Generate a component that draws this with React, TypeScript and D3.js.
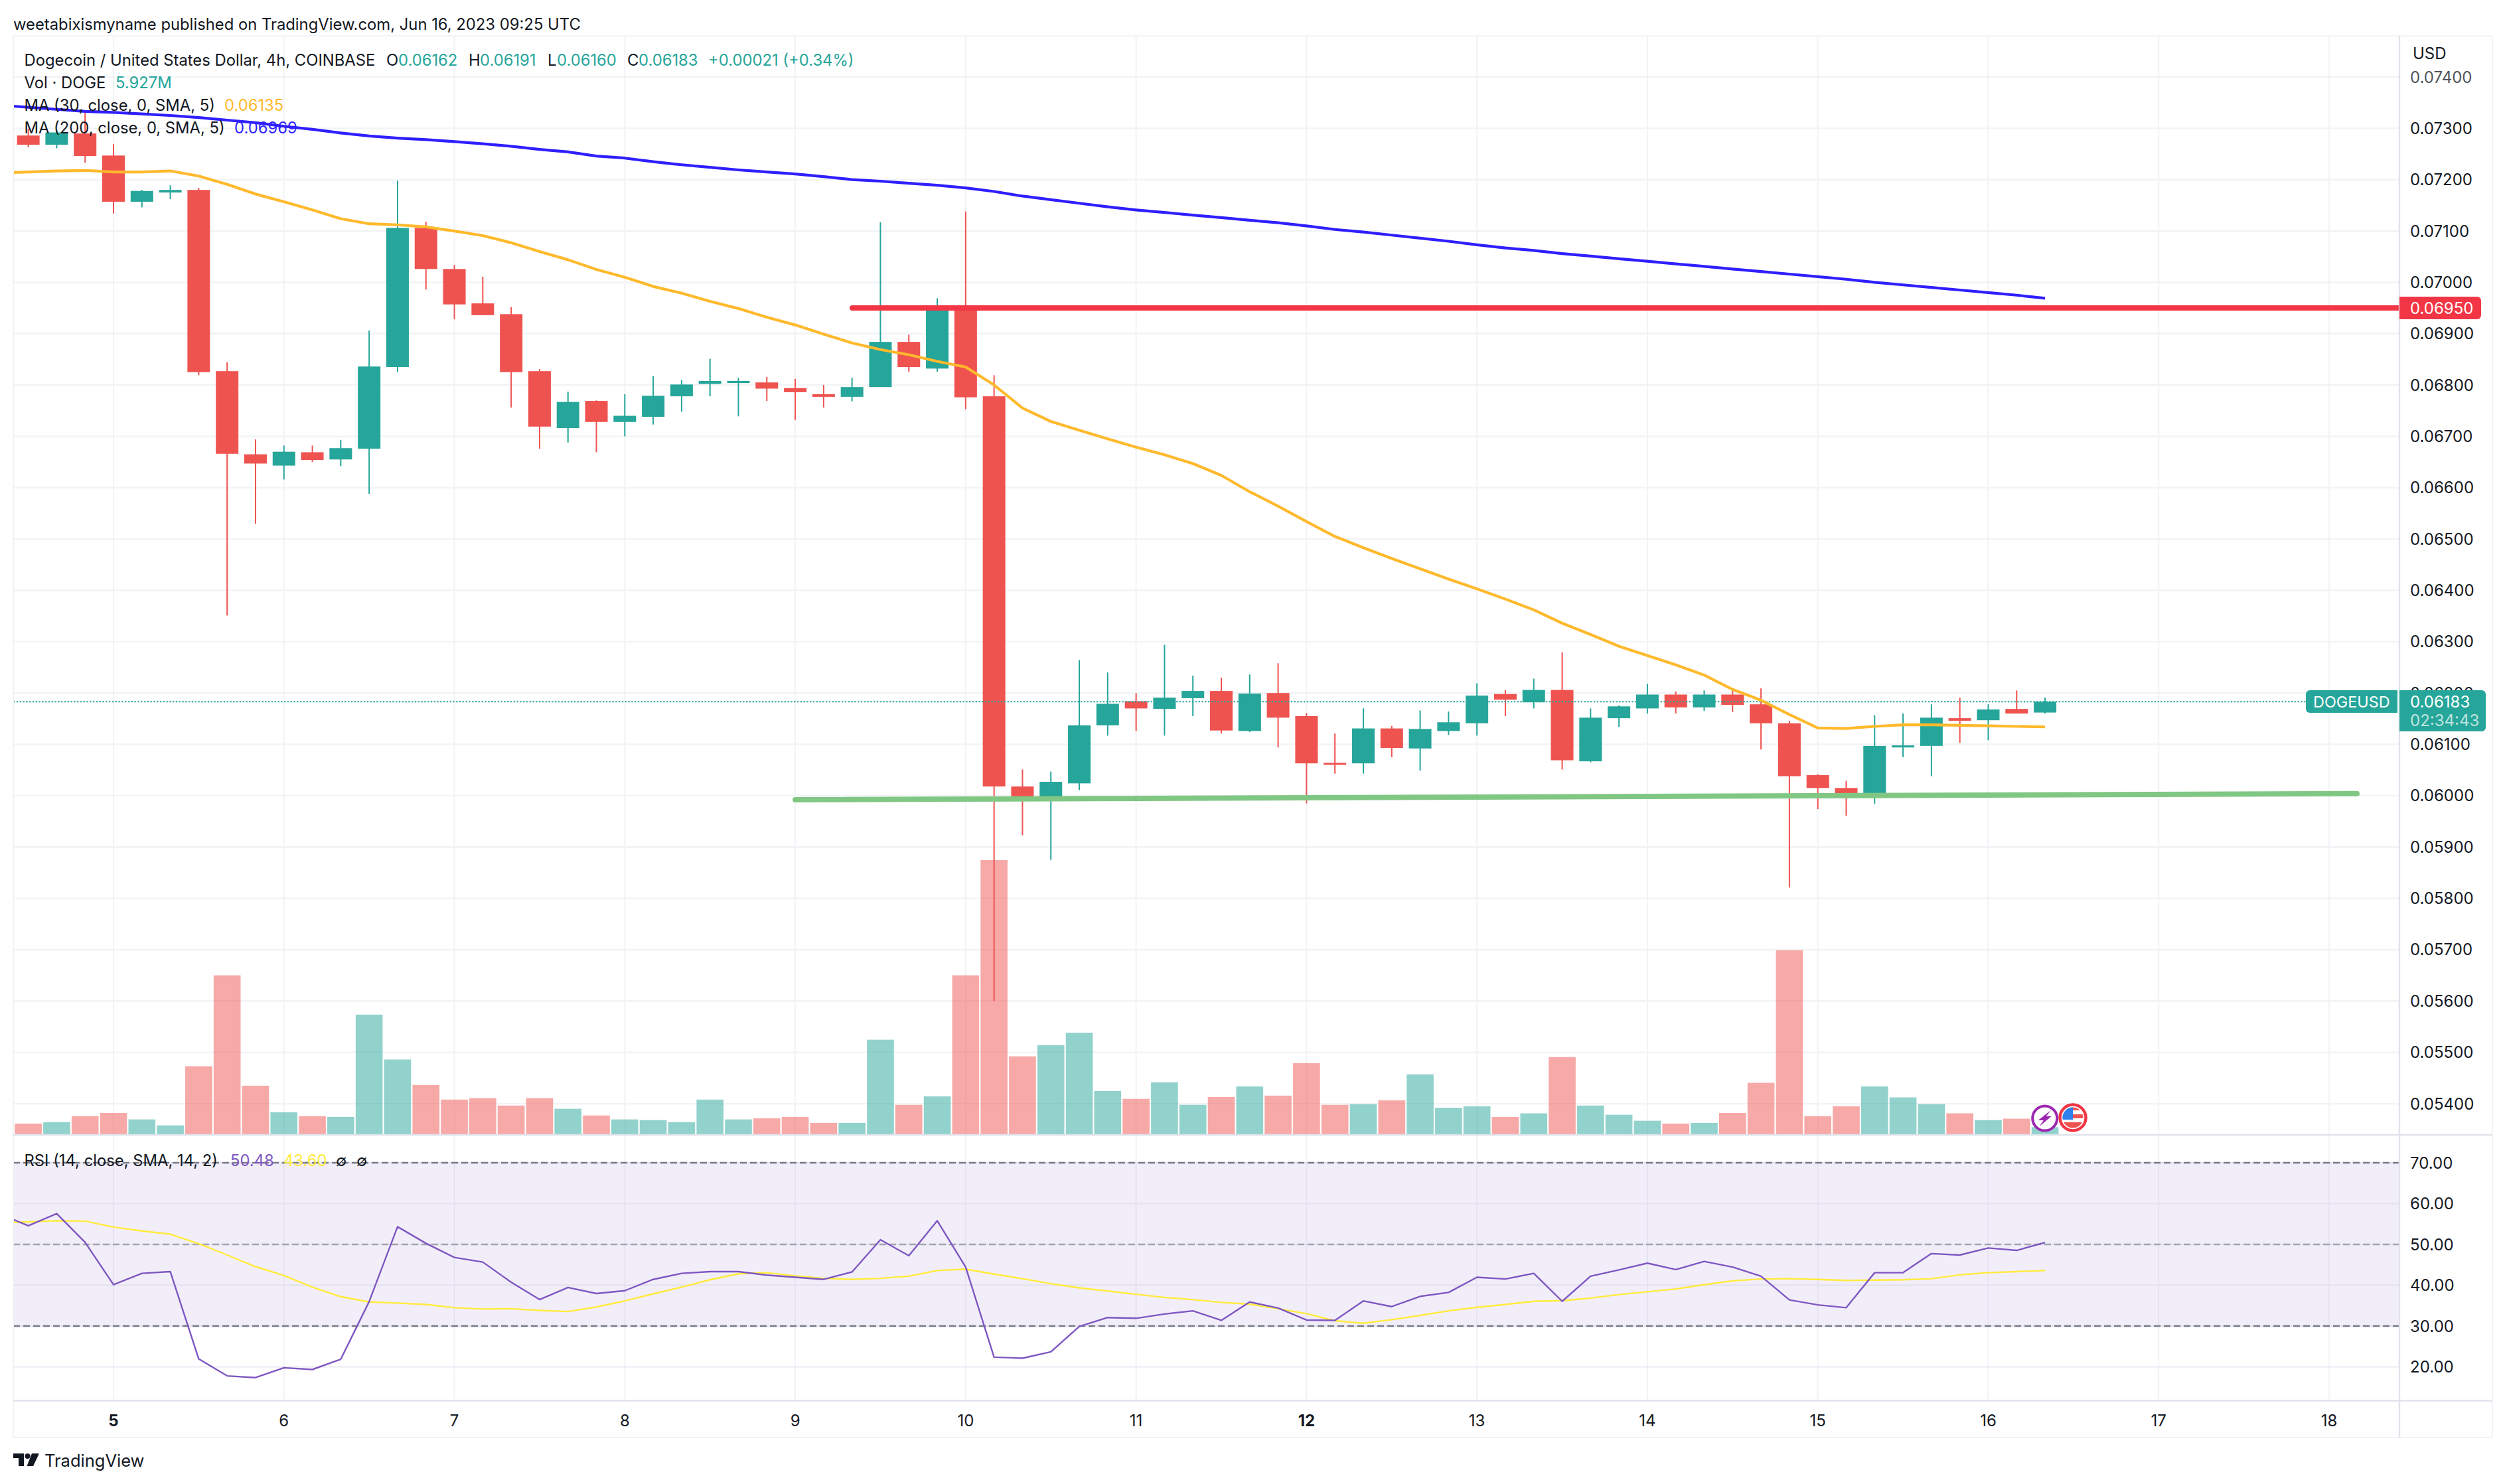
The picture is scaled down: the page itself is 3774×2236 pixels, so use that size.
import React from 'react';
import * as d3 from 'd3';

// 4h candles, the first one sits three bars before the "5" tick
const opens = [.07286, .07268, .07290, .07247, .07157, .07175, .07180, .06827, .06665, .06643, .06669, .06655, .06676, .06835, .07106, .07026, .06959, .06938, .06827, .06716, .06769, .06728, .06738, .06778, .06802, .06804, .06805, .06794, .06782, .06777, .06796, .06884, .06832, .06950, .06778, .06018, .05996, .06024, .06137, .06184, .06169, .06190, .06204, .06126, .06200, .06155, .06064, .06063, .06131, .06092, .06126, .06141, .06198, .06182, .06206, .06067, .06151, .06170, .06197, .06172, .06197, .06178, .06141, .06040, .06015, .06004, .06094, .06097, .06151, .06147, .06169, .06162];
const closes = [.07268, .07292, .07246, .07157, .07178, .07180, .06825, .06666, .06647, .06670, .06654, .06677, .06836, .07106, .07026, .06957, .06936, .06825, .06719, .06767, .06728, .06740, .06779, .06801, .06808, .06808, .06793, .06786, .06777, .06796, .06884, .06835, .06950, .06776, .06018, .05997, .06027, .06137, .06179, .06170, .06191, .06204, .06127, .06199, .06152, .06063, .06061, .06131, .06093, .06130, .06143, .06195, .06187, .06206, .06069, .06152, .06174, .06197, .06172, .06197, .06177, .06141, .06038, .06015, .06002, .06097, .06098, .06152, .06146, .06168, .06160, .06183];
const highs = [.07299, .07296, .07332, .07269, .07180, .07189, .07184, .06844, .06694, .06682, .06682, .06693, .06906, .07198, .07118, .07034, .07011, .06952, .06831, .06787, .06770, .06782, .06817, .06810, .06851, .06814, .06816, .06812, .06800, .06814, .07117, .06898, .06969, .07138, .06819, .06051, .06047, .06264, .06240, .06200, .06294, .06234, .06230, .06236, .06258, .06161, .06121, .06170, .06136, .06166, .06164, .06219, .06206, .06228, .06279, .06170, .06176, .06218, .06203, .06205, .06209, .06209, .06146, .06042, .06029, .06157, .06160, .06178, .06191, .06178, .06205, .06191];
const lows = [.07263, .07261, .07233, .07134, .07146, .07162, .06819, .06351, .06530, .06616, .06650, .06642, .06588, .06825, .06986, .06928, .06936, .06756, .06676, .06688, .06669, .06700, .06723, .06748, .06778, .06739, .06769, .06732, .06756, .06768, .06796, .06826, .06826, .06753, .05600, .05923, .05875, .06011, .06117, .06126, .06117, .06155, .06121, .06124, .06094, .05985, .06043, .06043, .06075, .06049, .06118, .06117, .06155, .06170, .06051, .06065, .06134, .06160, .06160, .06165, .06163, .06090, .05821, .05974, .05961, .05984, .06075, .06038, .06103, .06108, .06160, .06160];
// millions of DOGE
const volumes = [8.9, 10.1, 15.1, 17.8, 12.4, 7.4, 56.9, 133, 40.6, 18.4, 15.1, 14.5, 100.1, 62.5, 41.2, 29.0, 30.2, 24.0, 30.2, 21.3, 15.7, 12.4, 11.8, 10.1, 29.0, 12.4, 13.3, 14.5, 9.5, 9.5, 79.1, 24.6, 31.7, 133, 229.4, 65.2, 74.6, 85.0, 36.1, 29.6, 43.5, 24.6, 31.1, 40.0, 32.3, 59.5, 24.6, 25.2, 28.4, 50.1, 22.2, 23.4, 14.5, 17.5, 64.6, 24.0, 16.3, 11.3, 8.9, 9.5, 17.8, 43.0, 154, 15.1, 23.4, 40.0, 30.8, 25.2, 17.5, 11.8, 13.0, 5.927];

// these start one bar earlier so the lines run off the left edge
const ma30 = [.07213, .07215, .07217, .07218, .07215, .07215, .07217, .07207, .07191, .07172, .07157, .07141, .07124, .07114, .07112, .07108, .07100, .07091, .07077, .07060, .07044, .07025, .07010, .06992, .06979, .06963, .06949, .06932, .06917, .06899, .06882, .06869, .06859, .06846, .06835, .06800, .06755, .06729, .06712, .06695, .06679, .06664, .06647, .06624, .06592, .06564, .06534, .06505, .06483, .06462, .06442, .06422, .06403, .06383, .06362, .06336, .06314, .06291, .06273, .06255, .06235, .06207, .06186, .06158, .06132, .06131, .06135, .06138, .06138, .06137, .06136, .06135, .06134];
const ma200 = [.07345, .07341, .07337, .07333, .07331, .07328, .07325, .07321, .07316, .07311, .07304, .07298, .07291, .07285, .07281, .07278, .07274, .07270, .07265, .07259, .07254, .07246, .07242, .07235, .07229, .07224, .07219, .07215, .07211, .07206, .07200, .07197, .07193, .07189, .07184, .07177, .07168, .07161, .07154, .07147, .07141, .07136, .07131, .07126, .07121, .07116, .07110, .07103, .07098, .07092, .07086, .07080, .07073, .07067, .07062, .07056, .07051, .07046, .07041, .07036, .07031, .07026, .07021, .07016, .07011, .07006, .07000, .06995, .06990, .06985, .06980, .06975, .06969];
const rsi = [57.45, 54.59, 57.53, 50.52, 40.13, 42.90, 43.33, 21.95, 17.79, 17.36, 19.78, 19.35, 21.86, 36.0, 54.33, 50.26, 46.80, 45.67, 40.74, 36.49, 39.44, 37.97, 38.66, 41.43, 42.90, 43.33, 43.33, 42.47, 41.95, 41.43, 43.25, 51.13, 47.23, 55.80, 44.46, 22.38, 22.12, 23.68, 29.91, 32.08, 31.90, 32.94, 33.72, 31.39, 35.89, 34.42, 31.47, 31.39, 36.15, 34.76, 37.27, 38.23, 41.95, 41.52, 42.90, 36.06, 42.21, 43.77, 45.41, 43.85, 45.84, 44.46, 42.21, 36.41, 35.19, 34.50, 43.07, 43.07, 47.75, 47.40, 49.13, 48.53, 50.48];
const rsiMa = [55.28, 55.54, 55.80, 55.71, 54.24, 53.29, 52.51, 50.17, 47.40, 44.55, 42.38, 39.52, 37.19, 35.89, 35.63, 35.28, 34.50, 34.16, 34.24, 33.81, 33.55, 34.68, 36.15, 37.88, 39.52, 41.34, 42.81, 43.07, 42.29, 41.69, 41.43, 41.69, 42.21, 43.59, 43.94, 42.73, 41.60, 40.39, 39.35, 38.57, 37.79, 37.01, 36.49, 35.80, 35.37, 34.24, 33.03, 31.30, 30.69, 31.56, 32.60, 33.72, 34.59, 35.28, 36.06, 36.23, 36.84, 37.71, 38.40, 39.09, 40.13, 41.08, 41.52, 41.60, 41.43, 41.17, 41.26, 41.34, 41.60, 42.55, 43.07, 43.33, 43.60];

const dayLabels = ['5', '6', '7', '8', '9', '10', '11', '12', '13', '14', '15', '16', '17', '18'];
const boldDays = ['5', '12'];
const priceTicks = [.074, .073, .072, .071, .070, .069, .068, .067, .066, .065, .064, .063, .062, .061, .060, .059, .058, .057, .056, .055, .054];
const rsiTicks = [70, 60, 50, 40, 30, 20];
const resistance = [.0695, .0695];
const support = [.05992, .06004];
const lastClose = .06183;

const W = 3774, H = 2236;
const FONT = 'Inter, "Noto Sans", sans-serif';
const GRID = '#f2f3f6';
const BORDER = '#e0e3eb';
const UP = '#26a69a';
const DOWN = '#ef5350';
const INK = '#131722';
const FS = 24;

const left = 20, axisX = 3615, rightX = 3755, top = 54, volBase = 1709, paneLine = 1710, rsiBottom = 2110.5, timeBottom = 2166;

const x = d3.scaleLinear().domain([3, 81]).range([171, 3509]);
const y = d3.scaleLinear().domain([.074, .054]).range([116, 1663]);
const yVol = d3.scaleLinear().domain([0, 229.4]).range([volBase, 1296]);
const yRsi = d3.scaleLinear().domain([70, 20]).range([1752, 2059.5]);

const priceLine = d3.line<number>().x((_, i) => x(i - 1)).y(d => y(d));
const rsiLine = d3.line<number>().x((_, i) => x(i - 1)).y(d => yRsi(d));

export default function App() {
  const t = (s: string, tx: number, ty: number, fill = INK, extra: any = {}) => (
    <text x={tx} y={ty} fill={fill} dominantBaseline="central" {...extra}>{s}</text>
  );
  const bodyW = 34, volW = 40.6;
  const tagY = y(lastClose);
  return (
    <svg width={W} height={H} viewBox={`0 0 ${W} ${H}`} style={{ position: 'absolute', left: 0, top: 0, background: '#fff' }} fontFamily={FONT} fontSize={FS}>
      <defs>
        <clipPath id="pane"><rect x={left} y={top} width={axisX - left} height={rsiBottom - top} /></clipPath>
      </defs>

      {/* grid */}
      {dayLabels.map((d, i) => (
        <line key={d} x1={x(3 + i * 6)} x2={x(3 + i * 6)} y1={top} y2={rsiBottom} stroke={GRID} strokeWidth={2} />
      ))}
      {priceTicks.map(p => (
        <line key={p} x1={left} x2={axisX} y1={y(p)} y2={y(p)} stroke={GRID} strokeWidth={2.4} />
      ))}

      {/* rsi band and levels */}
      <rect x={left} y={yRsi(70)} width={axisX - left} height={yRsi(30) - yRsi(70)} fill="#7e57c2" fillOpacity={0.1} />
      {rsiTicks.map(v => (
        <line key={v} x1={left} x2={axisX} y1={yRsi(v)} y2={yRsi(v)} stroke="#e4e2ee" strokeOpacity={v === 20 ? 0.6 : 1} strokeWidth={2.4} />
      ))}
      {[70, 50, 30].map(v => (
        <line key={v} x1={left} x2={axisX} y1={yRsi(v)} y2={yRsi(v)} stroke="#787b86" strokeOpacity={v === 50 ? 0.6 : 1} strokeWidth={2.4} strokeDasharray="10 5" />
      ))}

      {/* volume */}
      {volumes.map((v, i) => (
        <rect key={i} x={x(i) - volW / 2} y={yVol(v)} width={volW} height={volBase - yVol(v)} fill={closes[i] >= opens[i] ? UP : DOWN} fillOpacity={0.5} />
      ))}

      {/* candles */}
      {opens.map((o, i) => {
        const c = closes[i];
        const color = c >= o ? UP : DOWN;
        const yt = y(Math.max(o, c)), yb = y(Math.min(o, c));
        return (
          <g key={i} fill={color}>
            <rect x={x(i) - 1} y={y(highs[i])} width={2} height={y(lows[i]) - y(highs[i])} />
            <rect x={x(i) - bodyW / 2} y={yt} width={bodyW} height={Math.max(yb - yt, 3)} />
          </g>
        );
      })}

      {/* last price line */}
      <line x1={left} x2={3474} y1={tagY} y2={tagY} stroke={UP} strokeWidth={2} strokeDasharray="2.4 2.4" />

      <g clipPath="url(#pane)" fill="none" strokeLinejoin="round">
        <path d={priceLine(ma200)!} stroke="#2f1fff" strokeWidth={4.2} />
        <path d={priceLine(ma30)!} stroke="#ffb92c" strokeWidth={4.2} />
        <path d={rsiLine(rsiMa)!} stroke="#ffeb3b" strokeWidth={2.4} />
        <path d={rsiLine(rsi)!} stroke="#7e57c2" strokeWidth={2.4} />
      </g>

      {/* drawn levels */}
      <line x1={1284} x2={axisX} y1={y(resistance[0])} y2={y(resistance[1])} stroke="#f23645" strokeWidth={8} strokeLinecap="round" />
      <line x1={1198} x2={3551} y1={y(support[0])} y2={y(support[1])} stroke="#81c784" strokeWidth={8} strokeLinecap="round" />

      {/* chart icons at the last bar */}
      <g transform="translate(3080.7,1685)">
        <circle r={18.5} fill="#fff" stroke="#9c27b0" strokeWidth={4} />
        <path d="M9 -12 L-10 3 L-2 3 L-8 12 L10 -3 L2 -3 Z" fill="#9c27b0" />
      </g>
      <g transform="translate(3123,1684)">
        <circle r={19.5} fill="#fff" stroke="#f23645" strokeWidth={4.4} />
        <clipPath id="flag"><circle r={15.5} /></clipPath>
        <g clipPath="url(#flag)">
          <rect x={-16} y={-16} width={32} height={32} fill="#fff" />
          <rect x={-16} y={-16} width={32} height={5} fill="#ef5350" />
          <rect x={-16} y={-5} width={32} height={6} fill="#ef5350" />
          <rect x={-16} y={7} width={32} height={9} fill="#ef5350" />
          <rect x={-16} y={-16} width={16} height={19} fill="#2f80ed" />
        </g>
      </g>

      {/* frame */}
      <line x1={left} x2={rightX} y1={top} y2={top} stroke={GRID} strokeWidth={2} />
      <line x1={left} x2={left} y1={top} y2={timeBottom} stroke={GRID} strokeWidth={2} />
      <line x1={rightX} x2={rightX} y1={top} y2={timeBottom} stroke={GRID} strokeWidth={2} />
      <line x1={left} x2={rightX} y1={timeBottom} y2={timeBottom} stroke={GRID} strokeWidth={2} />
      <line x1={left} x2={rightX} y1={paneLine} y2={paneLine} stroke={BORDER} strokeWidth={2.4} />
      <line x1={left} x2={rightX} y1={rsiBottom} y2={rsiBottom} stroke={BORDER} strokeWidth={2.4} />
      <line x1={axisX} x2={axisX} y1={top} y2={timeBottom} stroke={BORDER} strokeWidth={2.4} />

      {/* axes */}
      {priceTicks.map(p => t(p.toFixed(5), 3631, y(p), INK, { key: p, opacity: p === .074 ? 0.75 : 1 }))}
      {rsiTicks.map(v => t(v.toFixed(2), 3631, yRsi(v), INK, { key: v }))}
      {t('USD', 3635, 80)}
      {dayLabels.map((d, i) => (
        <text key={d} x={x(3 + i * 6)} y={2140} textAnchor="middle" dominantBaseline="central" fill={INK} fontWeight={boldDays.includes(d) ? 700 : 400}>{d}</text>
      ))}

      {/* price tags */}
      <path d="M3615 447 H3732 a6 6 0 0 1 6 6 V475 a6 6 0 0 1 -6 6 H3615 Z" fill="#f23645" />
      {t('0.06950', 3631, 464, '#fff')}
      <path d="M3480 1040 H3612 V1074 H3480 a6 6 0 0 1 -6 -6 V1046 a6 6 0 0 1 6 -6 Z" fill={UP} />
      {t('DOGEUSD', 3485, 1057, '#fff', { fontSize: 23.4 })}
      <path d="M3615 1040 H3739 a6 6 0 0 1 6 6 V1096 a6 6 0 0 1 -6 6 H3615 Z" fill={UP} />
      {t('0.06183', 3631, 1057, '#fff')}
      {t('02:34:43', 3631, 1085, '#fff', { opacity: 0.7 })}

      {/* legend */}
      <g fontSize={23.8}>
        {t('weetabixismyname published on TradingView.com, Jun 16, 2023 09:25 UTC', 20, 36)}
        {t('Dogecoin / United States Dollar, 4h, COINBASE', 36.5, 90)}
        {t('O', 582, 90)}{t('0.06162', 600, 90, UP)}
        {t('H', 706, 90)}{t('0.06191', 723, 90, UP)}
        {t('L', 825, 90)}{t('0.06160', 839, 90, UP)}
        {t('C', 945, 90)}{t('0.06183', 962, 90, UP)}
        {t('+0.00021 (+0.34%)', 1067, 90, UP)}
        {t('Vol · DOGE', 36.5, 124)}{t('5.927M', 174, 124, UP)}
        {t('MA (30, close, 0, SMA, 5)', 36.5, 158)}{t('0.06135', 338, 158, '#ffb92c')}
        {t('MA (200, close, 0, SMA, 5)', 36.5, 192)}{t('0.06969', 353, 192, '#2f1fff')}
        {t('RSI (14, close, SMA, 14, 2)', 36.5, 1748)}
        {t('50.48', 347, 1748, '#7e57c2')}{t('43.60', 427, 1748, '#ffeb3b')}
        {t('∅', 506, 1748)}{t('∅', 537, 1748)}
      </g>

      {/* logo */}
      <g fill={INK}>
        <path d="M20 2190 H36 V2209 H28 V2197 H20 Z" />
        <circle cx={41.5} cy={2194} r={4} />
        <path d="M48 2190 H59 L50 2209 H40.5 Z" />
      </g>
      {t('TradingView', 67, 2200, INK, { fontSize: 25.5 })}
    </svg>
  );
}
